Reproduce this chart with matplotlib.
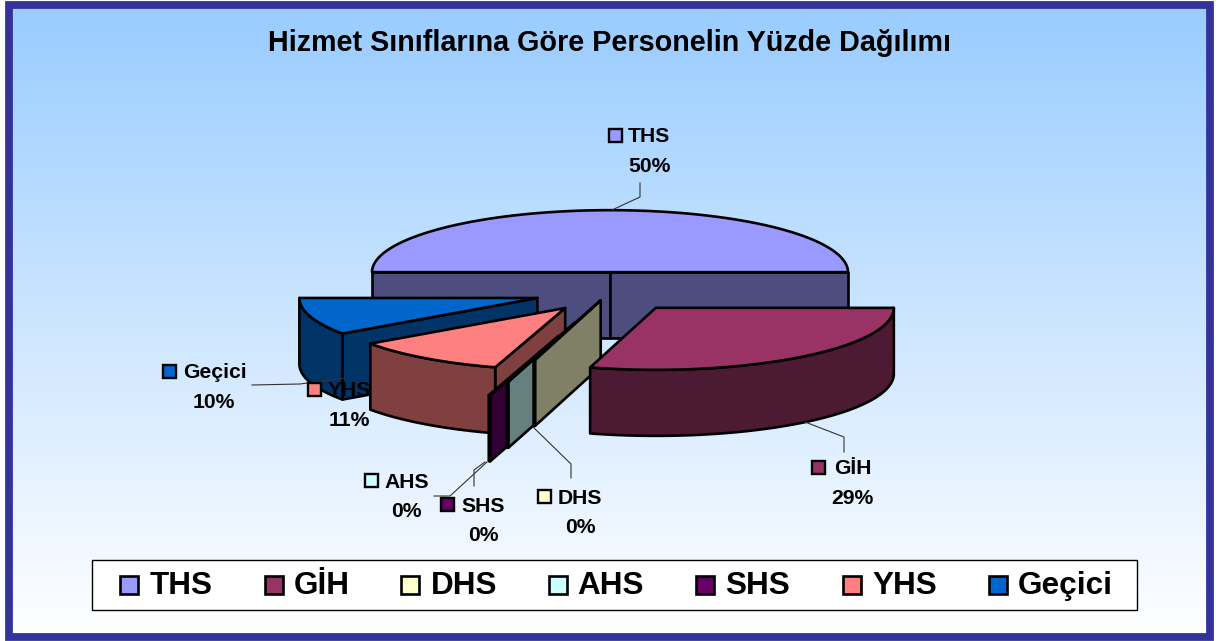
import matplotlib
matplotlib.use('Agg')
import matplotlib.pyplot as plt
import numpy as np
from matplotlib.patches import Polygon, Rectangle

plt.rcParams['font.family'] = ['Liberation Sans', 'DejaVu Sans']

# Data
categories = ['THS', 'GİH', 'DHS', 'AHS', 'SHS', 'YHS', 'Geçici']
percentages = [50.0, 29.45, 0.1, 0.1, 0.1, 10.52, 9.73]
title_text = 'Hizmet Sınıflarına Göre Personelin Yüzde Dağılımı'

# Slice styling
top_colors = ['#9999FF', '#993366', '#FFFFCC', '#CCFFFF', '#660066', '#FF8080', '#0066CC']
side_colors = ['#4D4D80', '#4D1A33', '#808066', '#668080', '#330033', '#804040', '#003366']
explode = [0.32, 0.32, 0.14, 0.51, 0.74, 0.32, 0.32]
draw_order = [0, 6, 5, 4, 3, 2, 1]

# Pie geometry, in pixels
cx, cy = 610, 292
rx, ry = 238, 62
depth = 66
start_angle = 180


def arc_points(x0, y0, a0, a1):
    angles = np.radians(np.linspace(a0, a1, 80))
    return x0 + rx * np.cos(angles), y0 - ry * np.sin(angles)


def draw_face(ax, pts, color):
    ax.add_patch(Polygon(pts, closed=True, facecolor=color, edgecolor='black',
                         linewidth=1.9, joinstyle='round'))


def draw_slice(ax, a0, a1, exp, top, side):
    mid = np.radians((a0 + a1) / 2)
    x0 = cx + exp * rx * np.cos(mid)
    y0 = cy - exp * ry * np.sin(mid)

    # cut faces facing the viewer
    for ang, visible in ((a0, np.cos(np.radians(a0)) < -1e-9), (a1, np.cos(np.radians(a1)) > 1e-9)):
        if visible:
            ex = x0 + rx * np.cos(np.radians(ang))
            ey = y0 - ry * np.sin(np.radians(ang))
            draw_face(ax, [(x0, y0), (ex, ey), (ex, ey + depth), (x0, y0 + depth)], side)

    # outer wall, only the front half of the rim shows
    w0, w1 = min(a0, 0), max(a1, -180)
    if w0 > w1:
        xs, ys = arc_points(x0, y0, w0, w1)
        pts = list(zip(xs, ys)) + list(zip(xs[::-1], ys[::-1] + depth))
        draw_face(ax, pts, side)

    # top
    xs, ys = arc_points(x0, y0, a0, a1)
    draw_face(ax, [(x0, y0)] + list(zip(xs, ys)), top)


fig = plt.figure(figsize=(12.2, 6.41), dpi=100, facecolor='white')
ax = fig.add_axes([0, 0, 1, 1])
ax.axis('off')

# Background gradient and frame
gradient = np.linspace(0, 1, 256).reshape(-1, 1)
top_rgb = np.array([0x99, 0xCC, 0xFF]) / 255
rgb = top_rgb + (1 - top_rgb) * gradient[..., None]
ax.imshow(rgb, extent=[9, 1210, 637, 5], aspect='auto', zorder=0)
ax.set_xlim(0, 1220)
ax.set_ylim(641, 0)
ax.add_patch(Rectangle((9, 5), 1201, 632, fill=False, edgecolor='#333399', linewidth=5.6, zorder=1))

ax.text(610, 43, title_text, ha='center', va='center', fontsize=20.7, fontweight='bold')

# Leader lines
leaders = [
    ([640, 640, 612], [183, 197, 210]),
    ([805, 844, 844], [422, 437, 452]),
    ([533, 571, 571], [427, 464, 478]),
    ([434, 450, 487], [496, 496, 462]),
    ([474, 474, 485], [486, 470, 462]),
    ([252, 300, 345], [385, 384, 378]),
]

# Slices
angles = start_angle - np.cumsum([0] + percentages) * 3.6
for i in draw_order:
    draw_slice(ax, angles[i], angles[i + 1], explode[i], top_colors[i], side_colors[i])

for lx, ly in leaders:
    ax.plot(lx, ly, color='#333333', linewidth=0.8, zorder=3)

# Data labels
swatch_x = [609, 812, 538, 365, 441, 308, 163]
name_x = [628, 834, 558, 384, 461, 328, 183]
name_y = [136, 468, 497, 481, 505, 390, 372]
pct_x = [649, 852, 580, 406, 483, 349, 214]
for i, name in enumerate(categories):
    ax.add_patch(Rectangle((swatch_x[i], name_y[i] - 7), 13, 13, facecolor=top_colors[i],
                           edgecolor='black', linewidth=1.7, zorder=4))
    ax.text(name_x[i], name_y[i] + 1, name, ha='left', va='center', fontsize=15.2,
            fontweight='bold', zorder=4)
    ax.text(pct_x[i], name_y[i] + 30.5, f'{percentages[i]:.0f}%', ha='center', va='center',
            fontsize=15.2, fontweight='bold', zorder=4)

# Legend
ax.add_patch(Rectangle((91.5, 560), 1045, 50, facecolor='white', edgecolor='black', linewidth=1, zorder=2))
legend_swatch_x = [120, 265, 401, 549, 696, 843, 989]
legend_text_x = [150, 294, 431, 577, 725, 872, 1018]
for i, name in enumerate(categories):
    ax.add_patch(Rectangle((legend_swatch_x[i], 576), 18, 18, facecolor=top_colors[i],
                           edgecolor='black', linewidth=1.9, zorder=3))
    ax.text(legend_text_x[i], 586, name, ha='left', va='center', fontsize=22.7, fontweight='bold', zorder=3)

fig.savefig('out.png', dpi=100)
